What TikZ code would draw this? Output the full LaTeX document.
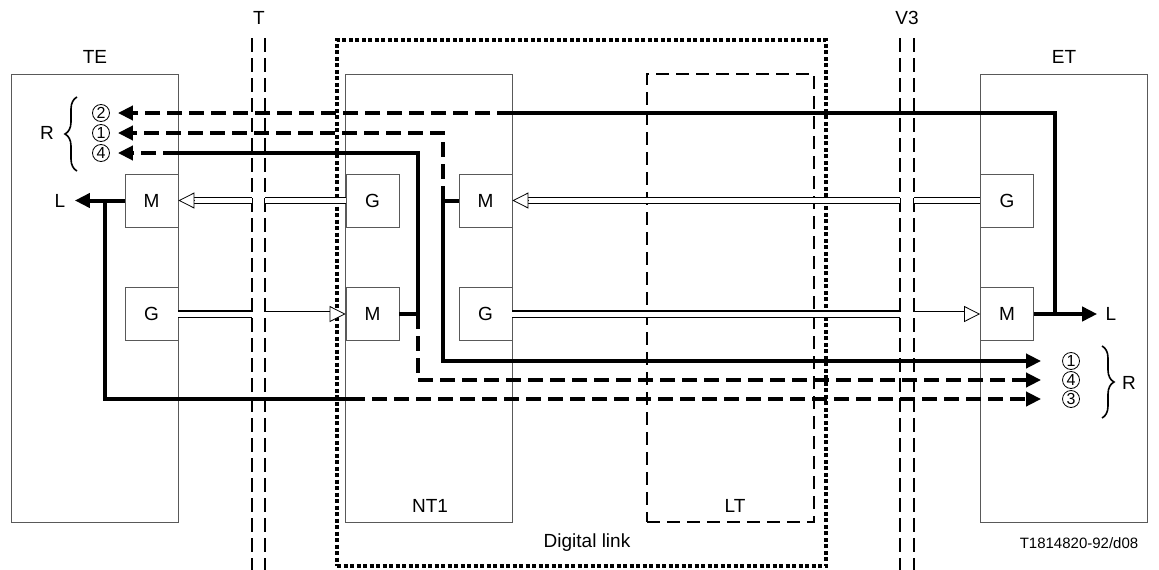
\documentclass[tikz,border=0pt]{standalone}
\usepackage{fontspec}
\setmainfont{Liberation Sans}
\usetikzlibrary{arrows.meta, positioning, decorations.pathreplacing}

\begin{document}
\begin{tikzpicture}[
  x=1pt, y=-1pt,
  every node/.style={font=\fontsize{19}{22}\selectfont},
  unit/.style={draw=black!65, line width=0.8pt, minimum width=167pt, minimum height=448pt, inner sep=0pt},
  fn/.style={draw=black!65, line width=0.8pt, fill=white, minimum size=53pt, inner sep=0pt},
  num/.style={circle, draw, line width=0.8pt, minimum size=17pt, inner sep=0pt, font=\fontsize{16}{17}\selectfont},
  iface/.style={line width=1.8pt, dash pattern=on 14pt off 6pt},
  sig/.style={line width=4pt},
  sigd/.style={sig, dash pattern=on 15pt off 7pt},
  tip/.style={-{Triangle[length=15pt, width=14pt]}},
  dline/.style={double=white, double distance=5pt, line width=1.4pt},
  hollow/.style={double=white, double distance=5pt, line width=0.8pt, shorten >=14pt},
  head/.style={line width=0.8pt, -{Triangle[open, fill=white, length=16pt, width=16pt]}},
  brc/.style={decorate, decoration={brace, amplitude=12pt}, line width=1.6pt}
]
\useasboundingbox (0,0) rectangle (1159,570);

% Units
\node[unit] (TE) at (94.5,298) {};
\node[unit] (NT) at (429,298) {};
\node[unit, draw=black, line width=1.6pt, dash pattern=on 13pt off 7pt] (LT) at (730.5,298) {};
\node[unit] (ET) at (1064,298) {};
\node[draw, line width=3.5pt, dash pattern=on 4pt off 2.5pt, minimum width=489pt, minimum height=526pt] (link) at (581.5,303) {};

\node (TEl) at (95,57) {TE};
\node (ETl) at (1064,57) {ET};
\node (NTl) at (430,506) {NT1};
\node (LTl) at (735,506) {LT};
\node (linkl) at (587,543) {Digital link};
\node[font=\fontsize{15}{17}\selectfont] (ref) at (1079,543) {T1814820-92/d08};

% Interfaces T and V3
\node (Tl) at (259,18) {T};
\node (Vl) at (907,18) {V3};
\foreach \x in {252,265,900,914}
  \draw[iface] (\x,38) -- (\x,570);

% Function blocks
\node[fn] (m1) at (151.5,200.5) {M};
\node[fn] (g1) at (151.5,314) {G};
\node[fn] (g2) at (372.5,200.5) {G};
\node[fn] (m2) at (372.5,314) {M};
\node[fn] (m3) at (485.5,200.5) {M};
\node[fn] (g3) at (485.5,314) {G};
\node[fn] (g4) at (1007,200.5) {G};
\node[fn] (m4) at (1007,314) {M};

% Break points on the interfaces
\coordinate (t1) at (265,200.5);
\coordinate (t2) at (252,200.5);
\coordinate (t3) at (252,314);
\coordinate (t4) at (265,314);
\coordinate (v1) at (914,200.5);
\coordinate (v2) at (900,200.5);
\coordinate (v3) at (900,314);
\coordinate (v4) at (914,314);

\draw[dline] (g2.west) -- (t1);
\draw[hollow] (t2) -- (m1.east);
\draw[head] ([xshift=16pt]m1.east) -- (m1.east);
\draw[dline] (g1.east) -- (t3);
\draw[hollow] (t4) -- (m2.west);
\draw[head] ([xshift=-16pt]m2.west) -- (m2.west);
\draw[dline] (g4.west) -- (v1);
\draw[hollow] (v2) -- (m3.east);
\draw[head] ([xshift=16pt]m3.east) -- (m3.east);
\draw[dline] (g3.east) -- (v3);
\draw[hollow] (v4) -- (m4.west);
\draw[head] ([xshift=-16pt]m4.west) -- (m4.west);

% Loop labels
\node[num] (c2) at (101,113) {2};
\node[num] (c1) at (101,133) {1};
\node[num] (c4) at (101,153) {4};
\node (Rl) at (47,133) {R};
\draw[brc] (77,171) -- (77,97);

\node[num] (d1) at (1071,361) {1};
\node[num] (d4) at (1071,380) {4};
\node[num] (d3) at (1071,399) {3};
\node (Rr) at (1129,383) {R};
\draw[brc] (1102,346) -- (1102,418);

\node (Ll) at (60,200.5) {L};
\node (Lr) at (1111,314) {L};

% Junctions
\coordinate (j1) at (443,200.5);
\coordinate (j2) at (1055,314);
\coordinate (j3) at (105,200.5);
\coordinate (j4) at (418,314);
\coordinate (s2) at (512,113);
\coordinate (s3) at (350,399);
\coordinate (s4) at (178,153);

% Loop 2
\draw[sig, tip, shorten >=5pt] (m4.east) -- (Lr);
\draw[sig] (j2) |- (s2);
\draw[sigd, tip, shorten >=8pt] (s2) -- (c2);

% Loop 1
\draw[sig] (m3.west) -- (j1);
\draw[sigd, tip, shorten >=8pt] (j1) |- (c1);
\draw[sig, tip, shorten >=21pt] (j1) |- (d1);

% Loop 4
\draw[sig] (m2.east) -- (j4);
\draw[sig] (j4) |- (s4);
\draw[sigd, tip, shorten >=8pt] (s4) -- (c4);
\draw[sigd, tip, shorten >=21pt] (j4) |- (d4);

% Loop 3
\draw[sig, tip, shorten >=6pt] (m1.west) -- (Ll);
\draw[sig] (j3) |- (s3);
\draw[sigd, tip, shorten >=21pt] (s3) -- (d3);

\end{tikzpicture}
\end{document}
